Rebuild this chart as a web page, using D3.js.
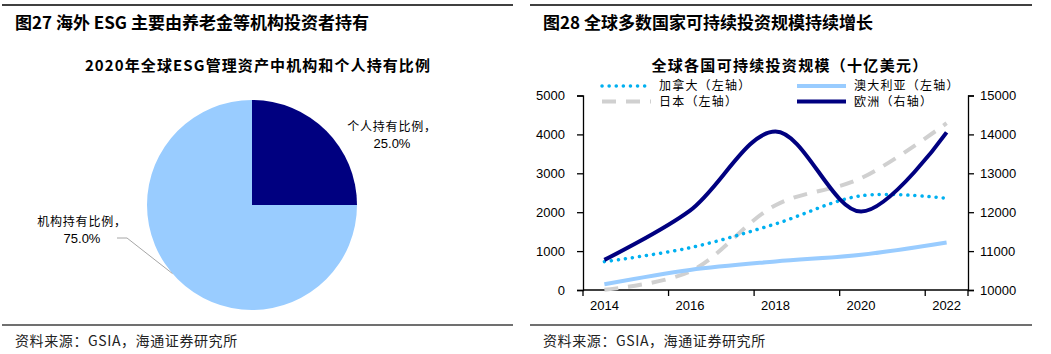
<!DOCTYPE html>
<html><head><meta charset="utf-8">
<script src="https://cdn.jsdelivr.net/npm/d3@7"></script>
<style>
body{margin:0;background:#fff;}
text{font-family:"Liberation Sans","Noto Sans CJK SC",sans-serif;}
</style></head>
<body><svg id="c" width="1051" height="354"></svg>
<script>
// ---- Data ----
const pieCategories = ["个人持有比例", "机构持有比例"];
const pieValues = [25.0, 75.0];

const years = [2014,2015,2016,2017,2018,2019,2020,2021,2022];
const dataYears = [2014, 2016, 2018, 2020, 2022];
const canada = [729, 1086, 1699, 2423, 2358];
const japan = [7, 474, 2180, 2874, 4289];
const australia = [148, 516, 734, 906, 1223];
const europe = [10775, 12040, 14075, 12017, 14054];
const leftTicks = [0,1000,2000,3000,4000,5000];
const rightTicks = [10000,11000,12000,13000,14000,15000];
const xLabels = [2014, 2016, 2018, 2020, 2022];

const svg = d3.select("#c");
const cjk = '"Noto Sans CJK SC","Liberation Sans",sans-serif';

// ---- Panel headers ----
function header(x0, x1, title){
  svg.append("line").attr("x1",x0).attr("x2",x1).attr("y1",5).attr("y2",5).attr("stroke","#404040").attr("stroke-width",2);
  svg.append("text").attr("x",x0+13).attr("y",29).attr("font-size",17).attr("font-weight","bold").style("font-family",cjk).attr("fill","#000").text(title);
  svg.append("line").attr("x1",x0).attr("x2",x1).attr("y1",325).attr("y2",325).attr("stroke","#404040").attr("stroke-width",1.5);
  svg.append("text").attr("x",x0+13).attr("y",346).attr("font-size",14).attr("letter-spacing",0.6).style("font-family",cjk).attr("fill","#222").text("资料来源：GSIA，海通证券研究所");
}
header(2, 513, "图27 海外 ESG 主要由养老金等机构投资者持有");
header(530, 1032, "图28 全球多数国家可持续投资规模持续增长");

// ---- Pie ----
svg.append("text").attr("x",258).attr("y",71).attr("text-anchor","middle").attr("font-size",15).attr("letter-spacing",1.1).attr("font-weight","bold").style("font-family",cjk).text("2020年全球ESG管理资产中机构和个人持有比例");
const pieColors = ["#000080", "#99CCFF"];
const pie = d3.pie().sort(null).value(d=>d)(pieValues);
const arc = d3.arc().innerRadius(0).outerRadius(105);
const pg = svg.append("g").attr("transform","translate(252,205)");
pg.selectAll("path").data(pie).join("path").attr("d",arc).attr("fill",(d,i)=>pieColors[i]);

function pieLabel(x, y, cat, val){
  const t = svg.append("text").attr("text-anchor","middle").attr("font-size",12).style("font-family",cjk).attr("fill","#000");
  t.append("tspan").attr("x",x).attr("y",y).attr("letter-spacing",0.8).text(cat+"，");
  t.append("tspan").attr("x",x).attr("y",y+17).attr("font-size",13).style("font-family",'"Liberation Sans",sans-serif').text(val.toFixed(1)+"%");
}
pieLabel(392, 131, pieCategories[0], pieValues[0]);
pieLabel(82, 226, pieCategories[1], pieValues[1]);
// leader line for institutional slice
{
  const ang = 4.0;
  const ex = 252 + 105*Math.sin(ang), ey = 205 - 105*Math.cos(ang);
  svg.append("polyline").attr("points",`117,238 127,238 ${ex},${ey}`).attr("fill","none").attr("stroke","#a6a6a6").attr("stroke-width",1);
}

// ---- Line chart ----
const x = d3.scaleBand().domain(years).range([583, 968]);
const xc = y => x(y) + x.bandwidth()/2;
const yL = d3.scaleLinear().domain([0,5000]).range([290, 95.5]);
const yR = d3.scaleLinear().domain([10000,15000]).range([290, 95.5]);

svg.append("text").attr("x",790).attr("y",71).attr("text-anchor","middle").attr("font-size",15).attr("letter-spacing",1.3).attr("font-weight","bold").style("font-family",cjk).text("全球各国可持续投资规模（十亿美元）");

// axes
const axL = d3.axisLeft(yL).tickValues(leftTicks).tickSize(6).tickFormat(d3.format("d"));
const gL = svg.append("g").attr("transform","translate(583,0)").call(axL);
const axR = d3.axisRight(yR).tickValues(rightTicks).tickSize(6).tickFormat(d3.format("d"));
const gR = svg.append("g").attr("transform","translate(968,0)").call(axR);
const axB = d3.axisBottom(x).tickValues(xLabels).tickSize(0).tickPadding(8);
const gB = svg.append("g").attr("transform","translate(0,290)").call(axB);
[gL,gR,gB].forEach(g=>{
  g.select(".domain").attr("stroke","#000").attr("stroke-width",1.3);
  g.selectAll(".tick line").attr("stroke","#000").attr("stroke-width",1.3);
  g.selectAll("text").attr("font-size",13).attr("fill","#000").style("font-family",'"Liberation Sans",sans-serif');
});
gL.selectAll(".tick text").attr("x",-18);
gR.selectAll(".tick text").attr("x",12);
gB.select(".domain").attr("d","M583,0H968");
const bTicks = [2014,2016,2018,2020,2022];
gB.selectAll(".btick").data(bTicks).join("line").attr("class","btick")
  .attr("x1",d=>x(d)).attr("x2",d=>x(d)).attr("y1",0).attr("y2",6).attr("stroke","#000").attr("stroke-width",1.3);
gB.append("line").attr("x1",968).attr("x2",968).attr("y1",0).attr("y2",6).attr("stroke","#000").attr("stroke-width",1.3);
gB.selectAll(".tick text").attr("dy","0.9em");

const curve = d3.curveCatmullRom.alpha(0.5);
const lineL = d3.line().x((d,i)=>xc(dataYears[i])).y(d=>yL(d)).curve(curve);
const lineR = d3.line().x((d,i)=>xc(dataYears[i])).y(d=>yR(d)).curve(curve);

const series = [
  {name:"加拿大（左轴）", data:canada, line:lineL, color:"#00B0F0", width:3.5, dash:"0.1 7", cap:"round"},
  {name:"澳大利亚（左轴）", data:australia, line:lineL, color:"#99CCFF", width:4, dash:null, cap:"butt"},
  {name:"日本（左轴）", data:japan, line:lineL, color:"#D0D0D0", width:4, dash:"14 10", cap:"butt"},
  {name:"欧洲（右轴）", data:europe, line:lineR, color:"#000080", width:4, dash:null, cap:"butt"}
];
const drawOrder = [2,1,0,3];
drawOrder.forEach(i=>{
  const s = series[i];
  svg.append("path").attr("d",s.line(s.data)).attr("fill","none").attr("stroke",s.color)
    .attr("stroke-width",s.width).attr("stroke-dasharray",s.dash).attr("stroke-linecap",s.cap);
});

// legend
const legPos = [[602,86],[797,86],[602,101.5],[797,101.5]];
series.forEach((s,i)=>{
  const [lx,ly] = legPos[i];
  svg.append("line").attr("x1",lx).attr("x2",lx+49).attr("y1",ly).attr("y2",ly).attr("stroke",s.color)
    .attr("stroke-width",s.width).attr("stroke-dasharray",s.dash).attr("stroke-linecap",s.cap);
  svg.append("text").attr("x",lx+57).attr("y",ly+4).attr("font-size",12).attr("letter-spacing",1.2).style("font-family",cjk).attr("fill","#000").text(s.name);
});
</script></body></html>
